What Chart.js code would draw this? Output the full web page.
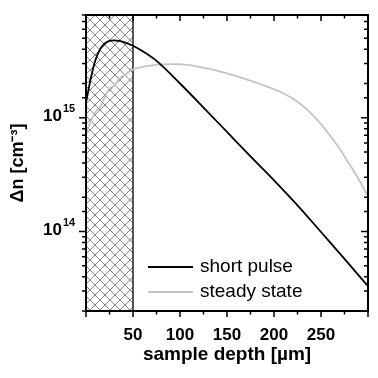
<!DOCTYPE html>
<html>
<head>
<meta charset="utf-8">
<script src="https://cdn.jsdelivr.net/npm/chart.js@4.4.1/dist/chart.umd.min.js"></script>
<style>
  html, body { margin: 0; padding: 0; background: #fff; }
  #wrap { width: 378px; height: 378px; }
</style>
</head>
<body>
<div id="wrap"><canvas id="depthChart"></canvas></div>
<script>
// sample depth in µm, excess carrier density in cm^-3
const pulseDepth = [0, 5, 10, 15, 20, 25, 30, 35, 40, 50, 60, 75, 100, 125, 150, 175, 200, 225, 250, 275, 300];
const pulseDn = [1.35e15, 2.2e15, 3.2e15, 4.0e15, 4.5e15, 4.73e15, 4.78e15, 4.73e15, 4.62e15, 4.29e15, 3.85e15,
                 3.16e15, 2.0e15, 1.23e15, 7.5e14, 4.57e14, 2.82e14, 1.7e14, 9.9e13, 5.75e13, 3.3e13];

const steadyDepth = [0, 5, 11, 15, 20, 25, 30, 36, 40, 50, 60, 68, 80, 95, 110, 130, 146, 160, 175, 185, 200,
                     210, 225, 238, 250, 260, 270, 277, 290, 300];
const steadyDn = [7.3e14, 9.3e14, 1.15e15, 1.24e15, 1.51e15, 1.82e15, 1.9e15, 2.24e15, 2.34e15, 2.66e15, 2.8e15,
                  2.87e15, 2.95e15, 2.965e15, 2.9e15, 2.7e15, 2.51e15, 2.32e15, 2.12e15, 1.98e15, 1.78e15,
                  1.64e15, 1.38e15, 1.12e15, 8.8e14, 6.9e14, 5.3e14, 4.3e14, 2.88e14, 2.04e14];

const seriesNames = ['short pulse', 'steady state'];
const hatchRange = [0, 50];          // absorption region, hatched
const xLabelTicks = [50, 100, 150, 200, 250];
const yLabelTicks = [[1e14, '10', '14'], [1e15, '10', '15']];

const FONT = '"Liberation Sans", Arial, sans-serif';
const toPts = (xs, ys) => xs.map((x, i) => ({ x: x, y: ys[i] }));

function makeHatch() {
    const c = document.createElement('canvas');
    c.width = 10; c.height = 10;
    const g = c.getContext('2d');
    g.strokeStyle = '#555';
    g.lineWidth = 0.7;
    g.beginPath();
    g.moveTo(-1, -1); g.lineTo(11, 11);
    g.moveTo(11, -1); g.lineTo(-1, 11);
    g.stroke();
    return c;
}

const hatchPlugin = {
    id: 'hatch',
    beforeDatasetsDraw(chart) {
        const { ctx, chartArea: a, scales: { x } } = chart;
        const x0 = x.getPixelForValue(hatchRange[0]);
        const x1 = x.getPixelForValue(hatchRange[1]);
        ctx.save();
        ctx.fillStyle = ctx.createPattern(makeHatch(), 'repeat');
        ctx.fillRect(x0, a.top, x1 - x0, a.bottom - a.top);
        ctx.strokeStyle = '#000';
        ctx.lineWidth = 1.3;
        ctx.beginPath();
        ctx.moveTo(x1, a.top); ctx.lineTo(x1, a.bottom);
        ctx.stroke();
        ctx.restore();
    }
};

const framePlugin = {
    id: 'frame',
    afterDraw(chart) {
        const { ctx, chartArea: a, scales: { x, y } } = chart;
        ctx.save();
        ctx.strokeStyle = '#000';
        ctx.lineWidth = 1.5;
        x.ticks.forEach(t => {
            const px = x.getPixelForValue(t.value);
            const len = t.value % 50 === 0 ? 6 : 3.5;
            ctx.beginPath();
            ctx.moveTo(px, a.bottom); ctx.lineTo(px, a.bottom + len);
            ctx.moveTo(px, a.top); ctx.lineTo(px, a.top + len);
            ctx.stroke();
        });
        y.ticks.forEach(t => {
            const py = y.getPixelForValue(t.value);
            const lg = Math.log10(t.value);
            const len = Math.abs(lg - Math.round(lg)) < 1e-6 ? 7 : 4;
            ctx.beginPath();
            ctx.moveTo(a.left, py); ctx.lineTo(a.left - len, py);
            ctx.moveTo(a.right, py); ctx.lineTo(a.right - len, py);
            ctx.stroke();
        });
        ctx.lineWidth = 2;
        ctx.strokeRect(a.left, a.top, a.right - a.left, a.bottom - a.top);

        // y tick labels as 10^n
        ctx.fillStyle = '#000';
        ctx.textBaseline = 'middle';
        yLabelTicks.forEach(([v, base, exp]) => {
            const py = y.getPixelForValue(v);
            ctx.font = 'bold 17px ' + FONT;
            ctx.textAlign = 'right';
            ctx.fillText(base, a.left - 24, py - 1);
            ctx.font = 'bold 11px ' + FONT;
            ctx.textAlign = 'left';
            ctx.fillText(exp, a.left - 23, py - 9);
        });

        // legend inside the plot, lower right
        const ds = chart.data.datasets;
        ctx.font = '19px ' + FONT;
        ctx.textAlign = 'left';
        ds.forEach((d, i) => {
            const ly = a.bottom - 44 + i * 25;
            ctx.strokeStyle = d.borderColor;
            ctx.lineWidth = 1.8;
            ctx.beginPath();
            ctx.moveTo(a.left + 62, ly); ctx.lineTo(a.left + 107, ly);
            ctx.stroke();
            ctx.fillText(d.label, a.left + 114, ly);
        });
        ctx.restore();
    }
};

const ctx = document.getElementById('depthChart').getContext('2d');
new Chart(ctx, {
    type: 'line',
    data: {
        datasets: [{
            label: seriesNames[0],
            data: toPts(pulseDepth, pulseDn),
            borderColor: '#000',
            borderWidth: 1.8,
            pointRadius: 0,
            cubicInterpolationMode: 'monotone'
        }, {
            label: seriesNames[1],
            data: toPts(steadyDepth, steadyDn),
            borderColor: '#c4c4c4',
            borderWidth: 1.8,
            pointRadius: 0,
            cubicInterpolationMode: 'monotone'
        }]
    },
    options: {
        responsive: true,
        maintainAspectRatio: false,
        animation: false,
        layout: { padding: { top: 15, right: 10, left: 0, bottom: 0 } },
        plugins: { legend: { display: false }, tooltip: { enabled: false } },
        scales: {
            x: {
                type: 'linear',
                min: 0,
                max: 300,
                grid: { display: false, drawTicks: false },
                border: { display: false },
                ticks: {
                    stepSize: 25,
                    autoSkip: false,
                    maxRotation: 0,
                    padding: 14,
                    color: '#000',
                    font: { family: FONT, size: 17, weight: 'bold' },
                    callback: v => xLabelTicks.includes(v) ? String(v) : ''
                },
                title: {
                    display: true,
                    text: 'sample depth [µm]',
                    color: '#000',
                    padding: { top: 0, bottom: 12 },
                    font: { family: FONT, size: 19, weight: 'bold' }
                },
                afterFit: s => {
                    s.height = 67;
                    s.paddingLeft = 0; s.paddingRight = 0;
                }
            },
            y: {
                type: 'logarithmic',
                min: 2e13,
                max: 8e15,
                grid: { display: false, drawTicks: false },
                border: { display: false },
                ticks: { display: false, autoSkip: false },
                title: {
                    display: true,
                    text: 'Δn [cm⁻³]',
                    color: '#000',
                    padding: { top: 7, bottom: 0 },
                    font: { family: FONT, size: 18, weight: 'bold' }
                },
                afterFit: s => {
                    s.width = 86;
                    s.paddingTop = 0; s.paddingBottom = 0;
                }
            }
        }
    },
    plugins: [hatchPlugin, framePlugin]
});
</script>
</body>
</html>
